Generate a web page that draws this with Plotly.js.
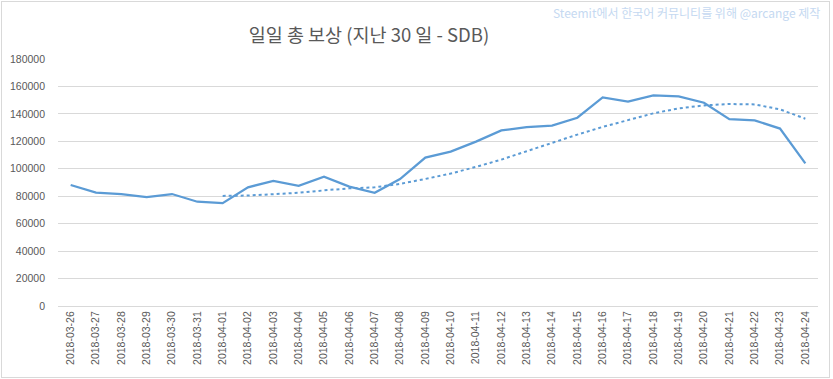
<!DOCTYPE html>
<html>
<head>
<meta charset="utf-8">
<script src="https://cdn.plot.ly/plotly-3.0.1.min.js"></script>
<style>
html,body{margin:0;padding:0;background:#fff;}
#wrap{position:relative;width:833px;height:379px;}
#chart{width:833px;height:379px;}
#frame{position:absolute;left:1px;top:1px;width:827px;height:375px;border:1px solid #d9d9d9;pointer-events:none;}
</style>
</head>
<body>
<div id="wrap"><div id="chart"></div><div id="frame"></div></div>
<script>
const dates = ["2018-03-26","2018-03-27","2018-03-28","2018-03-29","2018-03-30","2018-03-31",
"2018-04-01","2018-04-02","2018-04-03","2018-04-04","2018-04-05","2018-04-06","2018-04-07",
"2018-04-08","2018-04-09","2018-04-10","2018-04-11","2018-04-12","2018-04-13","2018-04-14",
"2018-04-15","2018-04-16","2018-04-17","2018-04-18","2018-04-19","2018-04-20","2018-04-21",
"2018-04-22","2018-04-23","2018-04-24"];
const dailyRewards = [88200,82600,81600,79400,81600,76000,75000,86500,91200,87600,94200,87000,82500,
92500,108200,112500,119800,128000,130300,131500,137200,152000,148900,153500,152700,148100,136100,
135300,129300,103900];
// 7-day moving-average trendline (starts on 2018-04-01)
const trendDates = dates.slice(6);
const trendValues = [80250,80500,81500,82500,84250,85750,86500,89000,92600,96500,101400,106700,
112800,118900,124900,130500,135300,140400,144000,146200,147200,146900,143300,136500];
const titleText = "일일 총 보상 (지난 30 일 - SDB)";
const creditText = "Steemit에서 한국어 커뮤니티를 위해 @arcange 제작";

const W = 833, H = 379, L = 58, R = 15, T = 59, B = 73;
const pw = W - L - R, ph = H - T - B;

const traces = [
  {x: dates, y: dailyRewards, type: 'scatter', mode: 'lines',
   line: {color: '#5b9bd5', width: 2.25}, hoverinfo: 'x+y'},
  {x: trendDates, y: trendValues, type: 'scatter', mode: 'lines',
   line: {color: '#5b9bd5', width: 2, dash: 'dot'}, hoverinfo: 'x+y'}
];

const layout = {
  width: W, height: H,
  margin: {l: L, r: R, t: T, b: B},
  paper_bgcolor: '#ffffff', plot_bgcolor: '#ffffff',
  showlegend: false,
  font: {family: 'Liberation Sans, Arial, sans-serif', color: '#595959', size: 10.5},
  title: {text: titleText, x: (369 - L) / pw, xanchor: 'center', xref: 'paper',
          y: 1 - 36 / H, yanchor: 'middle',
          font: {family: '"Noto Sans CJK KR", sans-serif', size: 18.5, color: '#595959'}},
  xaxis: {type: 'category', categoryorder: 'array', categoryarray: dates,
          range: [-0.5, dates.length - 0.5], tickangle: -90, showgrid: false, showline: true,
          linecolor: '#d9d9d9', linewidth: 1, ticks: '', zeroline: false,
          tickfont: {size: 10.5, color: '#595959'}, fixedrange: true},
  yaxis: {range: [0, 180000], dtick: 20000, showgrid: true, gridcolor: '#d9d9d9',
          gridwidth: 1, zeroline: false, showline: false, ticks: '',
          ticklabelstandoff: 12, tickformat: 'd',
          tickfont: {size: 10.5, color: '#595959'}, fixedrange: true},
  annotations: [{
    text: creditText, xref: 'paper', yref: 'paper',
    x: (822 - L) / pw, xanchor: 'right', y: (H - B - 12) / ph, yanchor: 'middle',
    showarrow: false, font: {family: '"Noto Sans CJK KR", sans-serif', size: 12, color: '#c5d9f1'}
  }]
};

Plotly.newPlot('chart', traces, layout, {displayModeBar: false, staticPlot: true});
</script>
</body>
</html>
